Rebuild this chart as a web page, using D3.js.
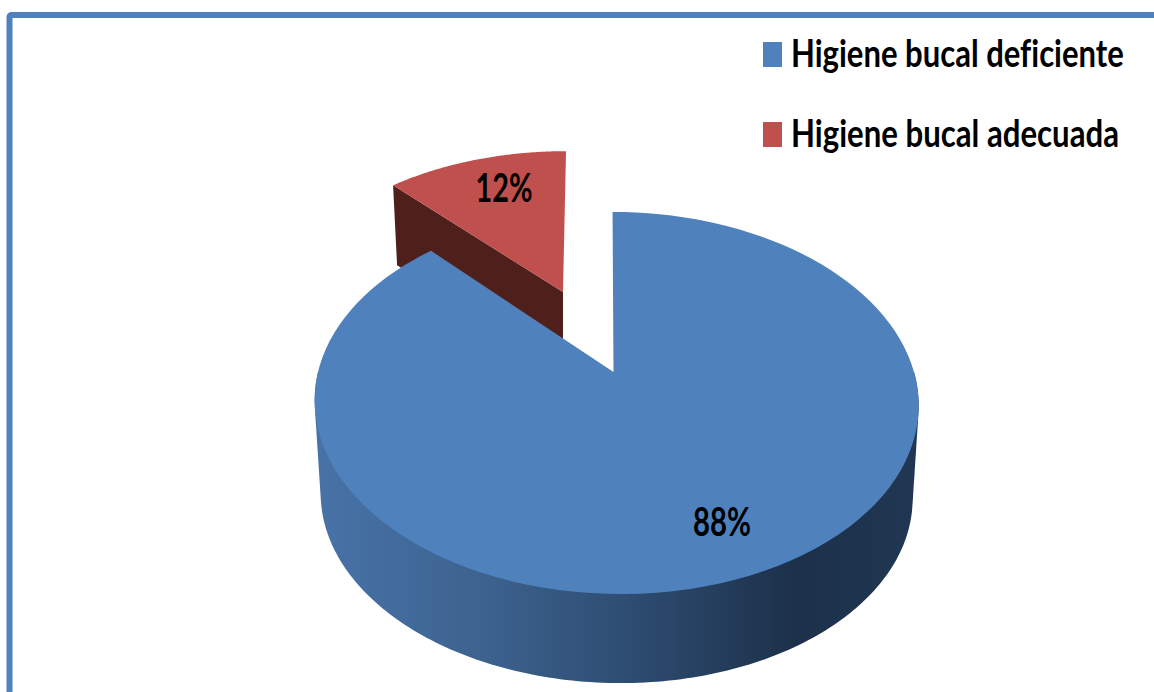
<!DOCTYPE html>
<html>
<head>
<meta charset="utf-8">
<style>
  html, body { margin: 0; padding: 0; background: #fff; overflow: hidden; }
  text { font-family: Lato, "Open Sans", sans-serif; font-weight: 700; fill: #000; font-variant-ligatures: none; }
</style>
<script src="https://cdn.jsdelivr.net/npm/d3@7"></script>
</head>
<body>
<div class="chart"></div>
<script>
const categories = ["Higiene bucal deficiente", "Higiene bucal adecuada"];
const percents = [88, 12];
const colors = ["#4f81bd", "#c0504d"];

const width = 1154;
const height = 692;

// perspective of the pie: k is the foreshortening, u/v are unit circle coords
const k = -0.1623;
const radiusX = 298;
const radiusY = 186;

const blueTop = { x0: 616, y0: 372, sx: 1, sy: 1, shear: 4 };
const blueBottom = { x0: 616, y0: 465.5, sx: 0.98, sy: 0.98, shear: 4 };
const redTop = { x0: 563, y0: 292, sx: 0.944, sy: 0.88, shear: -3.5 };
const redBottom = { x0: 567, y0: 372, sx: 0.944, sy: 0.88, shear: -3.5 };
const blueTip = [613.5, 372];

function project(angle, p) {
  const u = Math.sin(angle);
  const v = -Math.cos(angle);
  const w = 1 + k * v;
  return [
    p.x0 + (p.sx * radiusX * u + p.shear * v) / w,
    p.y0 + (p.sy * radiusY * v) / w
  ];
}

function rim(a0, a1, p) {
  return d3.range(0, 121).map(i => project(a0 + (a1 - a0) * i / 120, p));
}

// squeeze a text sideways to the width it has in the picture
function squeeze(sel, x, y, lengths, anchorMiddle) {
  sel.attr("transform", function (d, i) {
    const natural = this.getComputedTextLength();
    return `translate(${x(d, i)},${y(d, i)}) scale(${lengths[i] / natural},1)`;
  });
  if (anchorMiddle) sel.attr("text-anchor", "middle");
}

const slices = d3.pie().sort(null)(percents);
const blue = slices[0];
const red = slices[1];

const color = d3.scaleOrdinal().domain(categories).range(colors);
const line = d3.line();

const svg = d3.select(".chart").append("svg")
  .attr("width", width)
  .attr("height", height)
  .style("display", "block");

// frame, runs off the right and bottom of the picture
svg.append("rect")
  .attr("x", 9.5)
  .attr("y", 15)
  .attr("width", 1400)
  .attr("height", 1000)
  .attr("rx", 2)
  .attr("fill", "none")
  .attr("stroke", "#4f81bd")
  .attr("stroke-width", 6);

const grad = svg.append("defs").append("linearGradient")
  .attr("id", "wall")
  .attr("gradientUnits", "userSpaceOnUse")
  .attr("x1", 314).attr("x2", 918)
  .attr("y1", 0).attr("y2", 0);
[[0, "#4873a8"], [0.27, "#3d638f"], [0.52, "#2e4d72"], [0.8, "#1c3049"], [1, "#203753"]]
  .forEach(s => grad.append("stop").attr("offset", s[0]).attr("stop-color", s[1]));

// red slice: cut face first, then the top
const redStart = project(red.startAngle, redTop);
const redStartLow = project(red.startAngle, redBottom);
svg.append("path")
  .attr("d", line([redStart, [redTop.x0, redTop.y0], [redBottom.x0 - 4, redBottom.y0], redStartLow]) + "Z")
  .attr("fill", "#4f1f1c");
svg.append("path")
  .attr("d", line(rim(red.startAngle, red.endAngle, redTop).concat([[redTop.x0, redTop.y0]])) + "Z")
  .attr("fill", color(categories[1]));

// blue slice: outer wall from the front half of both rims, then the top
const frontPoints = d3.range(0, 181).map(i => i * Math.PI / 180 + Math.PI / 2)
  .flatMap(a => [project(a, blueTop), project(a, blueBottom)]);
svg.append("path")
  .attr("d", line(d3.polygonHull(frontPoints)) + "Z")
  .attr("fill", "url(#wall)");
svg.append("path")
  .attr("d", line(rim(blue.startAngle, blue.endAngle, blueTop).concat([blueTip])) + "Z")
  .attr("fill", color(categories[0]));

// value labels
const labelPos = [[722, 536], [504, 202]];
svg.selectAll(".value")
  .data(percents)
  .enter().append("text")
  .attr("class", "value")
  .attr("font-size", 40)
  .text(d => d + "%")
  .call(squeeze, (d, i) => labelPos[i][0], (d, i) => labelPos[i][1], [58, 57], true);

// legend
const legendY = d3.scalePoint().domain(categories).range([54.5, 134.5]);
const legendLength = [333, 328];
const legend = svg.selectAll(".legend")
  .data(categories)
  .enter().append("g")
  .attr("class", "legend")
  .attr("transform", d => `translate(763,${legendY(d)})`);
legend.append("rect")
  .attr("y", -12.5)
  .attr("width", 19)
  .attr("height", 25)
  .attr("fill", d => color(d));
legend.append("text")
  .attr("font-size", 38)
  .text(d => d)
  .call(squeeze, () => 28, () => 12.5, legendLength, false);
</script>
</body>
</html>
